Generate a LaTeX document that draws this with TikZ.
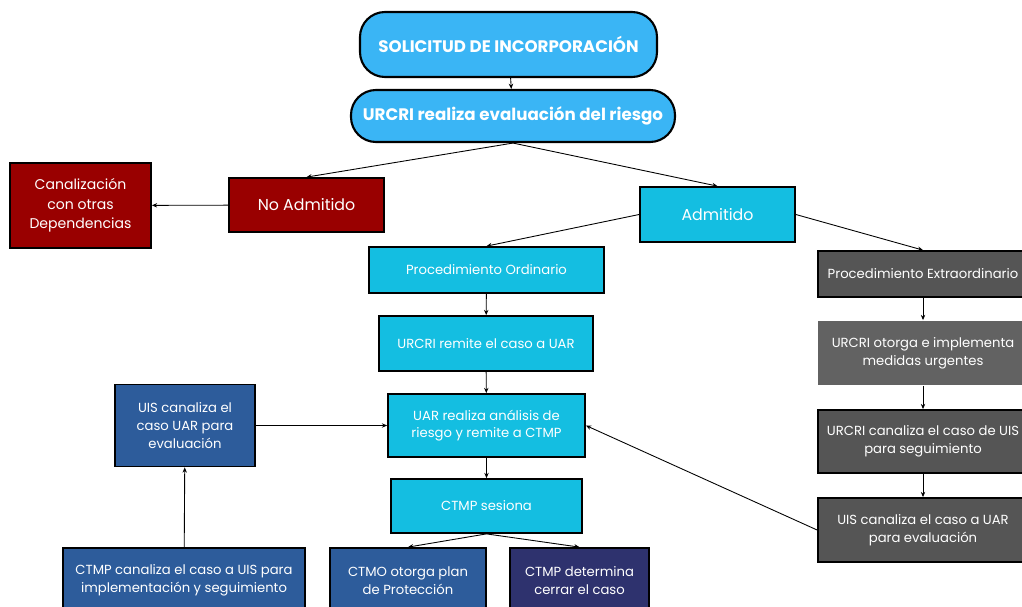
\documentclass[tikz,border=0pt]{standalone}
\usepackage{fontspec}
\setmainfont{Poppins}
\usetikzlibrary{arrows.meta}
\definecolor{pillblue}{RGB}{58,181,245}
\definecolor{cyanbox}{RGB}{20,190,225}
\definecolor{redbox}{RGB}{153,0,0}
\definecolor{greybox}{RGB}{85,85,85}
\definecolor{greylight}{RGB}{98,98,98}
\definecolor{bluebox}{RGB}{45,92,155}
\definecolor{navybox}{RGB}{46,50,110}
\begin{document}
\begin{tikzpicture}[
    font=\fontsize{7.5}{10}\selectfont,
    pill/.style={draw, line width=1.2pt, rounded corners=0.5cm, fill=pillblue, text=white,
      font=\fontsize{9.5}{12}\selectfont\bfseries},
    box/.style={draw, line width=1pt, text=white, align=center, inner sep=2pt},
    arr/.style={-{Stealth[length=3pt,width=2.5pt]}, line width=0.5pt},
  ]
  \useasboundingbox (0,0) rectangle (20.44,-12.12);
  % arriba: solicitud y evaluación
  \node[pill, minimum width=5.94cm, minimum height=1.30cm] (sol)  at (10.17,-0.89) {SOLICITUD DE INCORPORACIÓN};
  \node[pill, minimum width=6.48cm, minimum height=1.04cm] (eval) at (10.26,-2.32) {URCRI realiza evaluación del riesgo};
  \draw[arr] (sol) -- (eval);
  % no admitido
  \node[box, fill=redbox, minimum width=3.10cm, minimum height=1.08cm, font=\fontsize{9}{11}\selectfont] (noadm) at (6.13,-4.10) {No Admitido};
  \node[box, fill=redbox, minimum width=2.82cm, minimum height=1.70cm, font=\fontsize{8}{11}\selectfont] (canal) at (1.61,-4.11) {Canalización\\con otras\\Dependencias};
  \draw[arr] (eval.south) -- (noadm.north);
  \draw[arr] (noadm) -- (canal);
  % admitido
  \node[box, fill=cyanbox, minimum width=3.10cm, minimum height=1.10cm, font=\fontsize{9}{11}\selectfont] (adm) at (14.35,-4.29) {Admitido};
  \draw[arr] (eval.south) -- (adm.north);
  % procedimiento ordinario
  \node[box, fill=cyanbox, minimum width=4.70cm, minimum height=0.92cm] (pord)    at (9.73,-5.40) {Procedimiento Ordinario};
  \node[box, fill=cyanbox, minimum width=4.28cm, minimum height=1.10cm] (remite)  at (9.72,-6.87) {URCRI remite el caso a UAR};
  \node[box, fill=cyanbox, minimum width=3.94cm, minimum height=1.26cm] (uar)     at (9.73,-8.51) {UAR realiza análisis de\\riesgo y remite a CTMP};
  \node[box, fill=cyanbox, minimum width=3.82cm, minimum height=1.08cm] (sesiona) at (9.73,-10.12) {CTMP sesiona};
  \draw[arr] (adm.west) -- (pord.north);
  \draw[arr] (pord) -- (remite);
  \draw[arr] (remite) -- (uar);
  \draw[arr] (uar) -- (sesiona);
  % salidas de la sesión
  \node[box, fill=bluebox, minimum width=3.12cm, minimum height=1.30cm] (ctmo)    at (8.16,-11.61) {CTMO otorga plan\\de Protección};
  \node[box, fill=navybox, minimum width=2.78cm, minimum height=1.30cm] (cierre)  at (11.59,-11.61) {CTMP determina\\cerrar el caso};
  \node[box, fill=bluebox, minimum width=4.84cm, minimum height=1.30cm] (ctmpcan) at (3.68,-11.61) {CTMP canaliza el caso a UIS para\\implementación y seguimiento};
  \node[box, fill=bluebox, minimum width=2.80cm, minimum height=1.64cm] (uis)     at (3.70,-8.51) {UIS canaliza el\\caso UAR para\\evaluación};
  \draw[arr] (sesiona.south) -- (ctmo.north);
  \draw[arr] (sesiona.south) -- (cierre.north);
  \draw[arr] (ctmpcan) -- (uis);
  \draw[arr] (uis) -- (uar);
  % procedimiento extraordinario
  \node[box, fill=greybox, minimum width=4.20cm, minimum height=0.92cm] (pext)   at (18.46,-5.48) {Procedimiento Extraordinario};
  \node[box, draw=none, fill=greylight, minimum width=4.20cm, minimum height=1.28cm] (otorga) at (18.46,-7.06) {URCRI otorga e implementa\\medidas urgentes};
  \node[box, fill=greybox, minimum width=4.20cm, minimum height=1.26cm] (rcanal) at (18.46,-8.83) {URCRI canaliza el caso de UIS\\para seguimiento};
  \node[box, fill=greybox, minimum width=4.20cm, minimum height=1.28cm] (uisuar) at (18.46,-10.60) {UIS canaliza el caso a UAR\\para evaluación};
  \draw[arr] (adm.east) -- (pext.north);
  \draw[arr] (pext) -- (otorga);
  \draw[arr] (otorga) -- (rcanal);
  \draw[arr] (rcanal) -- (uisuar);
  \draw[arr] (uisuar.west) -- (uar.east);
\end{tikzpicture}
\end{document}
